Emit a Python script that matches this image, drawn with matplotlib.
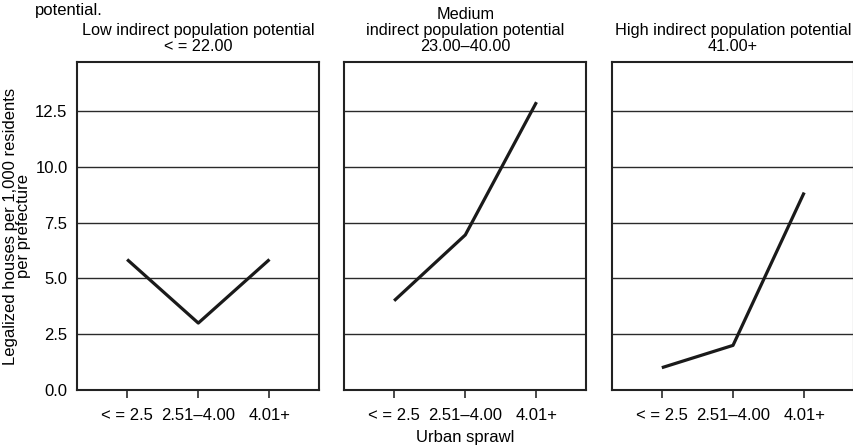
import matplotlib
matplotlib.use("Agg")
import matplotlib.pyplot as plt

plt.rcParams['font.family'] = ['Liberation Sans', 'DejaVu Sans']

categories = ["< = 2.5", "2.51\u20134.00", "4.01+"]
panel_titles = [
    "Low indirect population potential\n< = 22.00",
    "Medium\nindirect population potential\n23.00\u201340.00",
    "High indirect population potential\n41.00+",
]
low_values = [5.85, 3.0, 5.85]
medium_values = [4.0, 6.95, 12.9]
high_values = [1.0, 2.0, 8.85]
series = [low_values, medium_values, high_values]
yticks = [0.0, 2.5, 5.0, 7.5, 10.0, 12.5]

FS = 12
fig = plt.figure(figsize=(8.54, 4.45), dpi=100)
W, H = 854, 445
lefts = [77.3, 344.3, 612]
width = 242
top, bottom = 62, 390

x = list(range(len(categories)))
for i, (l, vals, title) in enumerate(zip(lefts, series, panel_titles)):
    ax = fig.add_axes([l / W, 1 - bottom / H, width / W, (bottom - top) / H])
    for yv in yticks[1:]:
        ax.axhline(yv, color='#2a2a2a', lw=1.0, zorder=1)
    ax.plot(x, vals, color='#1a1a1a', lw=2.3, solid_capstyle='butt', zorder=3)
    ax.set_xlim(-0.7, 2.7)
    ax.set_ylim(0, 14.7)
    ax.set_xticks(x)
    ax.set_xticklabels(categories, fontsize=FS)
    ax.set_yticks(yticks)
    if i == 0:
        ax.set_yticklabels([f"{v:.1f}" for v in yticks], fontsize=FS)
        ax.set_ylabel("Legalized houses per 1,000 residents\nper prefecture",
                      fontsize=FS, linespacing=0.8, labelpad=3)
    else:
        ax.tick_params(axis='y', left=False, labelleft=False)
    ax.tick_params(axis='x', length=6, width=1.2, color='#2a2a2a', pad=7)
    ax.tick_params(axis='y', length=0, pad=7)
    for s in ax.spines.values():
        s.set_linewidth(1.5)
        s.set_color('#222222')
    ax.set_title(title, fontsize=11.7, pad=8, linespacing=1.08)
    if i == 1:
        ax.set_xlabel("Urban sprawl", fontsize=FS, labelpad=5)

fig.text(35 / W, 1 - 15 / H, "potential.", fontsize=FS, ha='left', va='baseline')

fig.savefig("out.png", dpi=100)
